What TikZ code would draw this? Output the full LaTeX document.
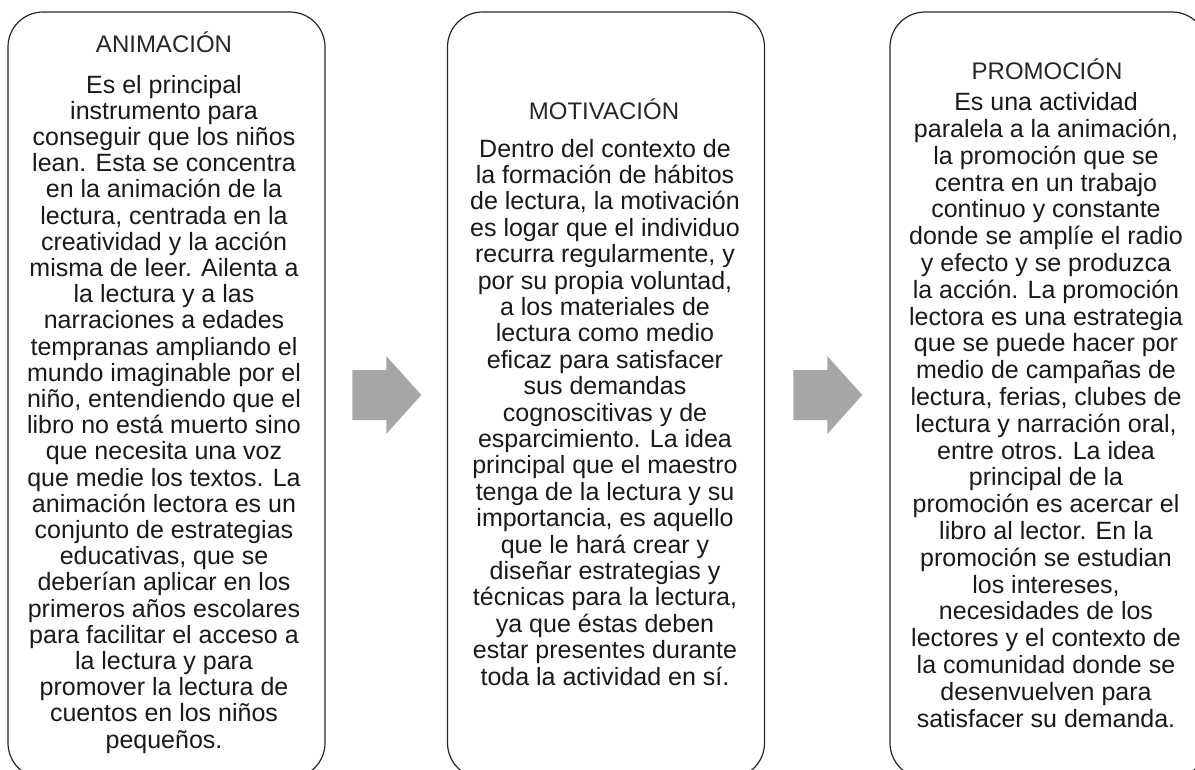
\documentclass[tikz,border=0pt]{standalone}
\usepackage{fontspec}
\setmainfont{Liberation Sans}
\usetikzlibrary{calc}
\definecolor{arrowgray}{HTML}{A6A6A6}

\tikzset{
  panel/.style={draw=black!85, line width=1.2pt, rounded corners=35pt,
    minimum width=317pt, minimum height=766pt, inner sep=0pt},
  headtext/.style={anchor=base, inner sep=0pt, text=black!85,
    font=\fontsize{24}{28}\selectfont},
  bodytext/.style={anchor=base, inner sep=0pt, align=center, text=black!90,
    font=\fontsize{25}{#1}\selectfont},
  blockarrow/.style={fill=arrowgray, draw=none}
}

\begin{document}
\begin{tikzpicture}[x=1pt, y=-1pt]
    \useasboundingbox (0,0) rectangle (1195,769);
    \clip (0,0) rectangle (1195,769);
    % the three panels
    \node[panel] (anim) at (166.5,395) {};
    \node[panel] (moti) at (606,395) {};
    \node[panel] (prom) at (1048.5,395) {};
    % arrows between the panels
    \coordinate (arr1) at ($(anim.east)!0.5!(moti.west)$);
    \coordinate (arr2) at ($(moti.east)!0.5!(prom.west)$);
    \foreach \a in {arr1,arr2}
        \fill[blockarrow] ([shift={(-34,-25)}]\a) -- ([shift={(0,-25)}]\a)
            -- ([shift={(0,-39)}]\a) -- ([shift={(35,0)}]\a)
            -- ([shift={(0,39)}]\a) -- ([shift={(0,25)}]\a)
            -- ([shift={(-34,25)}]\a) -- cycle;
    % ANIMACION (body placed by the baseline of its last line)
    \node[headtext] (animhead) at (164,52) {ANIMACIÓN};
    \node[bodytext=26.2pt] (animbody) at (164,748) {Es el principal\\
        instrumento para\\ conseguir que los niños\\ lean. Esta se concentra\\
        en la animación de la\\ lectura, centrada en la\\ creatividad y la acción\\
        misma de leer. Ailenta a\\ la lectura y a las\\ narraciones a edades\\
        tempranas ampliando el\\ mundo imaginable por el\\ niño, entendiendo que el\\
        libro no está muerto sino\\ que necesita una voz\\ que medie los textos. La\\
        animación lectora es un\\ conjunto de estrategias\\ educativas, que se\\
        deberían aplicar en los\\ primeros años escolares\\ para facilitar el acceso a\\
        la lectura y para\\ promover la lectura de\\ cuentos en los niños\\ pequeños.};
    % MOTIVACION
    \node[headtext] (motihead) at (604,119) {MOTIVACIÓN};
    \node[bodytext=26.4pt] (motibody) at (605,685) {Dentro del contexto de\\
        la formación de hábitos\\ de lectura, la motivación\\ es logar que el individuo\\
        recurra regularmente, y\\ por su propia voluntad,\\ a los materiales de\\
        lectura como medio\\ eficaz para satisfacer\\ sus demandas\\
        cognoscitivas y de\\ esparcimiento. La idea\\ principal que el maestro\\
        tenga de la lectura y su\\ importancia, es aquello\\ que le hará crear y\\
        diseñar estrategias y\\ técnicas para la lectura,\\ ya que éstas deben\\
        estar presentes durante\\ toda la actividad en sí.};
    % PROMOCION
    \node[headtext] (promhead) at (1047,79) {PROMOCIÓN};
    \node[bodytext=26.8pt] (prombody) at (1046,727) {Es una actividad\\
        paralela a la animación,\\ la promoción que se\\ centra en un trabajo\\
        continuo y constante\\ donde se amplíe el radio\\ y efecto y se produzca\\
        la acción. La promoción\\ lectora es una estrategia\\ que se puede hacer por\\
        medio de campañas de\\ lectura, ferias, clubes de\\ lectura y narración oral,\\
        entre otros. La idea\\ principal de la\\ promoción es acercar el\\
        libro al lector. En la\\ promoción se estudian\\ los intereses,\\
        necesidades de los\\ lectores y el contexto de\\ la comunidad donde se\\
        desenvuelven para\\ satisfacer su demanda.};
\end{tikzpicture}
\end{document}
